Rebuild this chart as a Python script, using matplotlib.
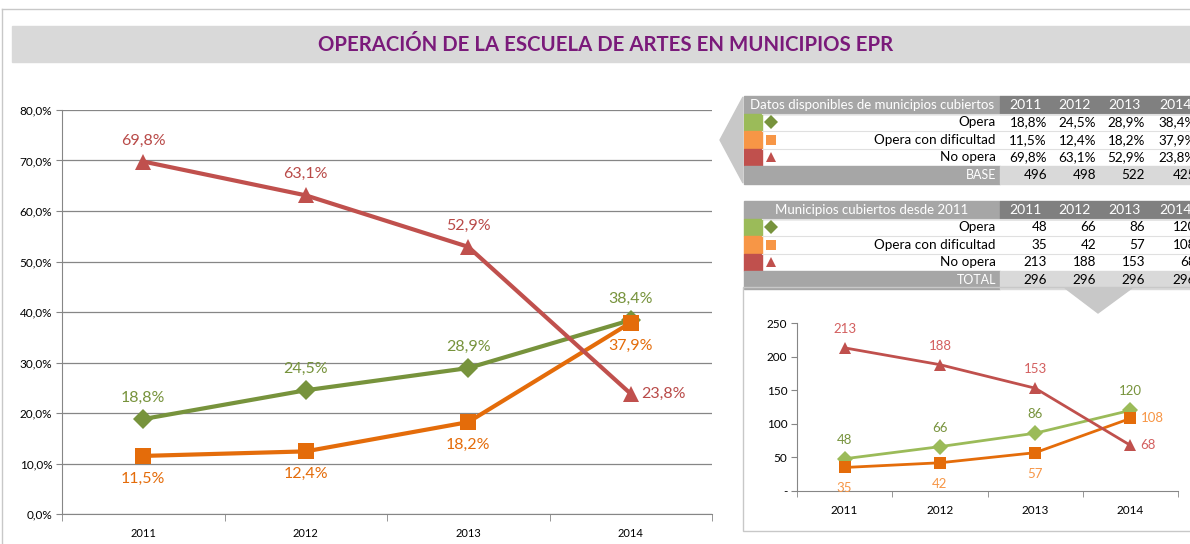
import matplotlib
matplotlib.use("Agg")
import matplotlib.pyplot as plt
from matplotlib.patches import Rectangle, Polygon
from matplotlib.ticker import FixedLocator

plt.rcParams['font.family'] = ['Lato', 'DejaVu Sans']

# Datos
years = ['2011', '2012', '2013', '2014']
series = ['Opera', 'Opera con dificultad', 'No opera']
pct_opera = [18.8, 24.5, 28.9, 38.4]
pct_dificultad = [11.5, 12.4, 18.2, 37.9]
pct_no_opera = [69.8, 63.1, 52.9, 23.8]
base = [496, 498, 522, 425]
n_opera = [48, 66, 86, 120]
n_dificultad = [35, 42, 57, 108]
n_no_opera = [213, 188, 153, 68]
total = [296, 296, 296, 296]

W, H = 1190, 544
fig = plt.figure(figsize=(W / 100, H / 100), dpi=100)

def px(x0, y0, x1, y1):
    return [x0 / W, 1 - y1 / H, (x1 - x0) / W, (y1 - y0) / H]

# capa de fondo en pixeles
bg = fig.add_axes([0, 0, 1, 1], zorder=0)
bg.set_xlim(0, W)
bg.set_ylim(H, 0)
bg.axis('off')

bg.plot([2, W], [9, 9], color='#c8c8c8', lw=1)
bg.plot([2, 2], [9, H], color='#c8c8c8', lw=1)
bg.add_patch(Rectangle((12, 26), W - 12, 36, color='#d9d9d9'))
bg.text(606, 45, 'OPERACIÓN DE LA ESCUELA DE ARTES EN MUNICIPIOS EPR', color='#7a1a7a',
        fontsize=14.7, fontweight='bold', ha='center', va='center')

verde, naranja, rojo = '#9bbb59', '#f79646', '#c0504d'
sq_colors = [verde, naranja, rojo]
mk_colors = ['#77933c', '#f79646', '#c0504d']
mks = ['D', 's', '^']
col_x = [1047, 1096, 1145, 1196]
year_x = [1009, 1058, 1108, 1159]


def tabla(y0, titulo, filas, pie, pie_vals, fmt):
    rh = 17.5
    bg.add_patch(Rectangle((744, y0), 256, rh, color='#a6a6a6'))
    bg.add_patch(Rectangle((1000, y0), W - 1000, rh, color='#808080'))
    bg.text(872, y0 + rh / 2, titulo, color='white', fontsize=9.5, ha='center', va='center')
    for j, yr in enumerate(years):
        bg.text(year_x[j], y0 + rh / 2, yr, color='white', fontsize=10, ha='left', va='center')
    for i, (nombre, vals) in enumerate(zip(series, filas)):
        yy = y0 + rh * (i + 1)
        bg.add_patch(Rectangle((744, yy), 18, rh, color=sq_colors[i]))
        bg.plot([762, W], [yy, yy], color='#e0e0e0', lw=0.8)
        bg.plot(771, yy + rh / 2, marker=mks[i], color=mk_colors[i], ms=7 if i == 0 else 7.5,
                markeredgewidth=0)
        bg.text(996, yy + rh / 2, nombre, fontsize=9.7, ha='right', va='center')
        for j, v in enumerate(vals):
            bg.text(col_x[j], yy + rh / 2, fmt(v), fontsize=9.7, ha='right', va='center')
    yy = y0 + rh * 4
    bg.add_patch(Rectangle((744, yy), 256, rh, color='#a6a6a6'))
    bg.add_patch(Rectangle((1000, yy), W - 1000, rh, color='#d9d9d9'))
    bg.text(996, yy + rh / 2, pie, color='white', fontsize=9, ha='right', va='center')
    for j, v in enumerate(pie_vals):
        bg.text(col_x[j], yy + rh / 2, str(v), fontsize=9.7, ha='right', va='center')


pfmt = lambda v: f'{v:.1f}%'.replace('.', ',')
tabla(96, 'Datos disponibles de municipios cubiertos',
      [pct_opera, pct_dificultad, pct_no_opera], 'BASE', base, pfmt)
tabla(201, 'Municipios cubiertos desde 2011',
      [n_opera, n_dificultad, n_no_opera], 'TOTAL', total, str)

bg.add_patch(Polygon([(743, 97), (720, 140), (743, 183)], color='#c8c8c8'))
bg.add_patch(Rectangle((743, 287), W - 743 + 5, 244, fill=False, edgecolor='#c8c8c8', lw=1))
bg.add_patch(Polygon([(1065, 288), (1132, 288), (1098, 313)], color='#c8c8c8', zorder=3))

# grafico principal
ax = fig.add_axes(px(62, 110, 712, 514), zorder=2)
ax.patch.set_alpha(0)
x = range(len(years))
principal = [
    (pct_opera, '#77933c', 'D', 10, '#77933c', ['up', 'up', 'up', 'up']),
    (pct_dificultad, '#e46c0a', 's', 11.5, '#e46c0a', ['down', 'down', 'down', 'down']),
    (pct_no_opera, '#c0504d', '^', 11.5, '#b94a48', ['up', 'up', 'up', 'right']),
]
for vals, c, m, ms, lc, pos in principal:
    ax.plot(x, vals, color=c, lw=3, marker=m, ms=ms, markeredgewidth=0, zorder=3)
    for i, v in enumerate(vals):
        txt = pfmt(v)
        if pos[i] == 'up':
            ax.annotate(txt, (i, v), xytext=(0, 21), textcoords='offset pixels',
                        ha='center', va='center', color=lc, fontsize=11.5)
        elif pos[i] == 'down':
            ax.annotate(txt, (i, v), xytext=(0, -23), textcoords='offset pixels',
                        ha='center', va='center', color=lc, fontsize=11.5)
        else:
            ax.annotate(txt, (i, v), xytext=(10, 0), textcoords='offset pixels',
                        ha='left', va='center', color=lc, fontsize=11.5)

ax.set_xlim(-0.5, 3.5)
ax.set_ylim(0, 80)
ax.set_yticks(range(0, 81, 10))
ax.set_yticklabels([f'{v},0%' for v in range(0, 81, 10)], fontsize=8.5)
ax.set_xticks(list(x))
ax.set_xticklabels(years, fontsize=8)
ax.xaxis.set_minor_locator(FixedLocator([-0.5, 0.5, 1.5, 2.5, 3.5]))
ax.tick_params(axis='x', which='major', length=0, pad=10)
ax.tick_params(axis='x', which='minor', length=5, color='#868686')
ax.tick_params(axis='y', length=4, color='#868686', pad=3)
ax.grid(axis='y', color='#868686', lw=0.9)
ax.set_axisbelow(True)
for s in ['top', 'right']:
    ax.spines[s].set_visible(False)
for s in ['left', 'bottom']:
    ax.spines[s].set_color('#868686')

# grafico pequeño
ax2 = fig.add_axes(px(797, 323, 1178, 491), zorder=2)
ax2.patch.set_alpha(0)
pequeno = [
    (n_opera, '#9bbb59', 'D', 8, '#77933c', ['up', 'up', 'up', 'up']),
    (n_dificultad, '#e46c0a', 's', 9, '#f79646', ['down', 'down', 'down', 'right']),
    (n_no_opera, '#c0504d', '^', 9, '#d35f5f', ['up', 'up', 'up', 'right']),
]
for vals, c, m, ms, lc, pos in pequeno:
    ax2.plot(x, vals, color=c, lw=2, marker=m, ms=ms, markeredgewidth=0, zorder=3)
    for i, v in enumerate(vals):
        if pos[i] == 'up':
            ax2.annotate(str(v), (i, v), xytext=(0, 19), textcoords='offset pixels',
                         ha='center', va='center', color=lc, fontsize=9.5)
        elif pos[i] == 'down':
            ax2.annotate(str(v), (i, v), xytext=(0, -21), textcoords='offset pixels',
                         ha='center', va='center', color=lc, fontsize=9.5)
        else:
            ax2.annotate(str(v), (i, v), xytext=(10, 0), textcoords='offset pixels',
                         ha='left', va='center', color=lc, fontsize=9.5)

ax2.set_xlim(-0.5, 3.5)
ax2.set_ylim(0, 250)
ax2.set_yticks(range(0, 251, 50))
ax2.set_yticklabels(['-'] + [str(v) for v in range(50, 251, 50)], fontsize=8.5)
ax2.set_xticks(list(x))
ax2.set_xticklabels(years, fontsize=8.5)
ax2.xaxis.set_minor_locator(FixedLocator([-0.5, 0.5, 1.5, 2.5, 3.5]))
ax2.tick_params(axis='x', which='major', length=0, pad=10)
ax2.tick_params(axis='x', which='minor', length=4, color='#868686')
ax2.tick_params(axis='y', length=4, color='#868686', pad=3)
for s in ['top', 'right']:
    ax2.spines[s].set_visible(False)
for s in ['left', 'bottom']:
    ax2.spines[s].set_color('#868686')

fig.savefig('out.png', dpi=100)
